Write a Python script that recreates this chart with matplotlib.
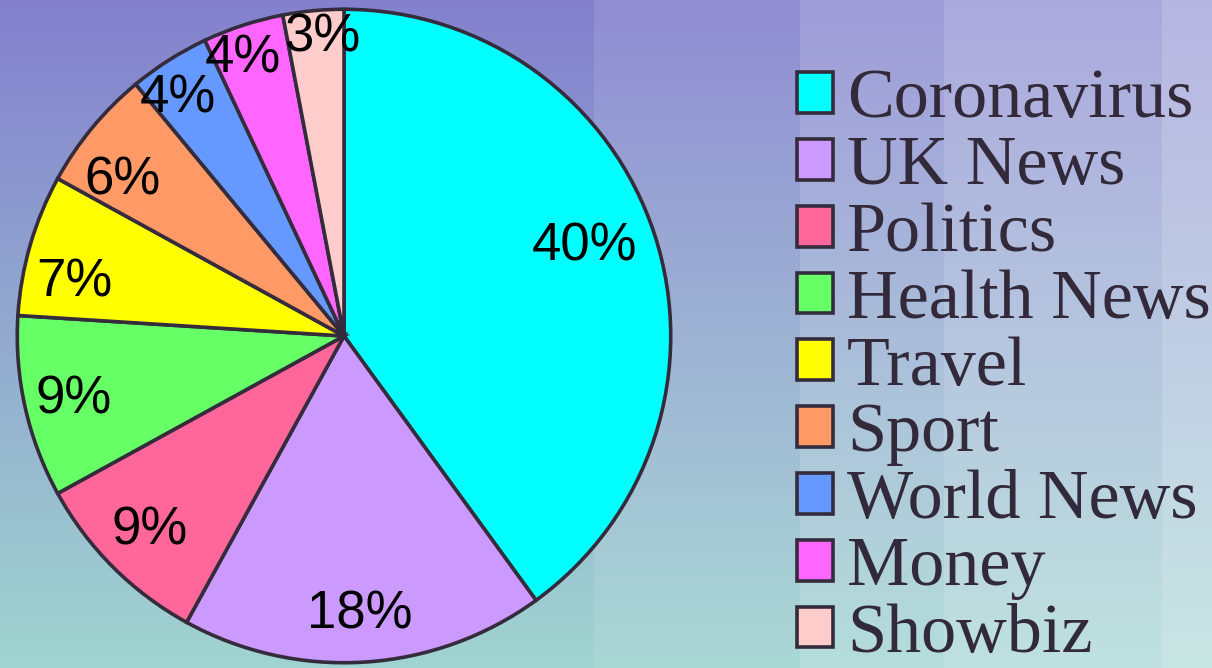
import matplotlib.pyplot as plt
import numpy as np

categories = ["Coronavirus", "UK News", "Politics", "Health News", "Travel",
              "Sport", "World News", "Money", "Showbiz"]
shares = [40, 18, 9, 9, 7, 6, 4, 4, 3]
colors = ["#00FFFF", "#CC99FF", "#FF6699", "#66FF66", "#FFFF00",
          "#FF9966", "#6699FF", "#FF66FF", "#FFCCCC"]
# % label placement like PowerPoint "best fit": radius fraction and a small
# turn (degrees) away from the wedge's middle
label_dist = [0.786, 0.855, 0.84, 0.849, 0.843, 0.83, 0.888, 0.905, 0.915]
label_turn = [2.3, -0.3, 0.0, 0.7, 4.9, 4.5, 2.5, 2.0, -1.2]

edge = "#342c3c"

fig = plt.figure(figsize=(12.12, 6.68), dpi=100)

# background wash: purple at top to teal at bottom, paler watercolour bands on the right
bg = fig.add_axes([0, 0, 1, 1])
h, w = 334, 606
yy = np.linspace(0, 1, h)[:, None, None]
xx = np.linspace(0, 1, w)[None, :]
top = np.array([132, 128, 206]) / 255
bot = np.array([160, 212, 208]) / 255
img = np.broadcast_to(top * (1 - yy) + bot * yy, (h, w, 3)).copy()
light = (0.10 * (xx > 0.49) + 0.12 * (xx > 0.66)
         + 0.10 * (xx > 0.78) + 0.10 * (xx > 0.96))
img = img + (1 - img) * light[..., None]
bg.imshow(img, aspect="auto", extent=[0, 1, 0, 1])
bg.axis("off")

ax = fig.add_axes([14 / 1212, 2 / 668, 660 / 1212, 660 / 668])
wedges, texts, autotexts = ax.pie(
    shares, colors=colors, startangle=90, counterclock=False, radius=1,
    autopct=lambda p: f"{p:.0f}%",
    wedgeprops=dict(edgecolor=edge, linewidth=2.6),
    textprops=dict(fontsize=38, family="Liberation Sans", color="black"))
for wd, t, d, turn in zip(wedges, autotexts, label_dist, label_turn):
    ang = np.deg2rad((wd.theta1 + wd.theta2) / 2 + turn)
    t.set_position((d * np.cos(ang), d * np.sin(ang)))
ax.set_xlim(-1.01, 1.01)
ax.set_ylim(-1.01, 1.01)

leg = ax.legend(wedges, categories, loc="upper left",
                bbox_to_anchor=(797 / 1212, 1 - 69 / 668),
                bbox_transform=fig.transFigure, frameon=False,
                prop=dict(family="Liberation Serif", size=50.5),
                handlelength=0.52, handleheight=0.52, handletextpad=0.19,
                labelspacing=0.047, borderpad=0, borderaxespad=0)
for t in leg.get_texts():
    t.set_color("#322a3a")

fig.savefig("out.png", dpi=100)
